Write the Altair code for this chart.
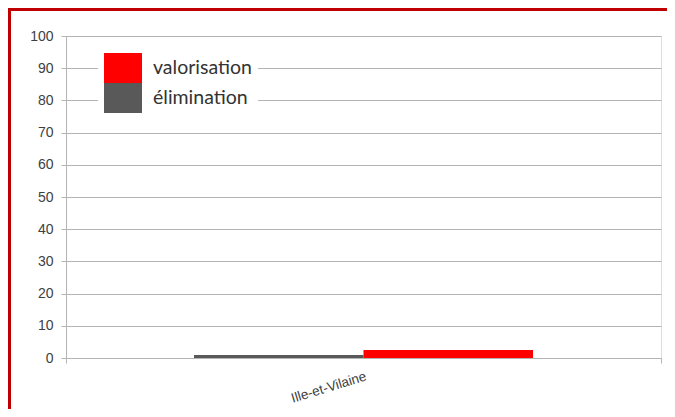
import altair as alt
import pandas as pd

categories = ["Ille-et-Vilaine"]
series = ["élimination", "valorisation"]
values = [0.9, 2.5]
legend_order = ["valorisation", "élimination"]
colors = ["#ff0000", "#595959"]
y_ticks = list(range(0, 101, 10))

df = pd.DataFrame({
    "dept": [categories[0]] * len(series),
    "type": series,
    "value": values,
})

FONT = "Liberation Sans"
TXT = "#404040"
GRID = "#b4b4b4"

bars = alt.Chart(df).mark_bar().encode(
    x=alt.X("dept:N", title=None,
            scale=alt.Scale(paddingInner=0, paddingOuter=0),
            axis=alt.Axis(labelAngle=-17, labelAlign="right", labelBaseline="top",
                          labelFontSize=13.5, labelColor=TXT, labelFont=FONT,
                          labelPadding=6, tickBand="extent", tickSize=5,
                          tickColor=GRID, domainColor=GRID, grid=False)),
    xOffset=alt.XOffset("type:N", sort=series,
                        scale=alt.Scale(paddingInner=0, paddingOuter=0.755)),
    y=alt.Y("value:Q", title=None,
            scale=alt.Scale(domain=[0, 100], nice=False),
            axis=alt.Axis(values=y_ticks, tickSize=5, labelPadding=8,
                          labelFontSize=14, labelColor=TXT, labelFont=FONT,
                          tickColor=GRID, domainColor=GRID, gridColor=GRID,
                          grid=True)),
    color=alt.Color("type:N", sort=legend_order,
                    scale=alt.Scale(domain=legend_order, range=colors),
                    legend=alt.Legend(title=None, orient="none", legendX=32, legendY=11,
                                      fillColor="white", padding=6,
                                      symbolType="M-1,-0.79H1V0.79H-1Z",
                                      symbolSize=1444, symbolStrokeWidth=0,
                                      symbolOpacity=1, clipHeight=30, rowPadding=0,
                                      labelFontSize=19.5, labelFont="Lato",
                                      labelColor="#333333", labelOffset=11)),
)

border = alt.Chart(alt.Data(values=[{}])).mark_rect(
    fill=None, stroke="#c00000", strokeWidth=3
).encode(
    x=alt.value(-56.5), y=alt.value(-26.5),
    x2=alt.value(800), y2=alt.value(600),
)

chart = alt.layer(bars, border).properties(
    width=595, height=322,
    autosize=alt.AutoSizeParams(type="none"),
    padding={"left": 58, "top": 28, "right": 6, "bottom": 51},
).configure_view(stroke=None).configure(background="white")

chart.save("out.html", embed_options={"renderer": "svg", "actions": False})
